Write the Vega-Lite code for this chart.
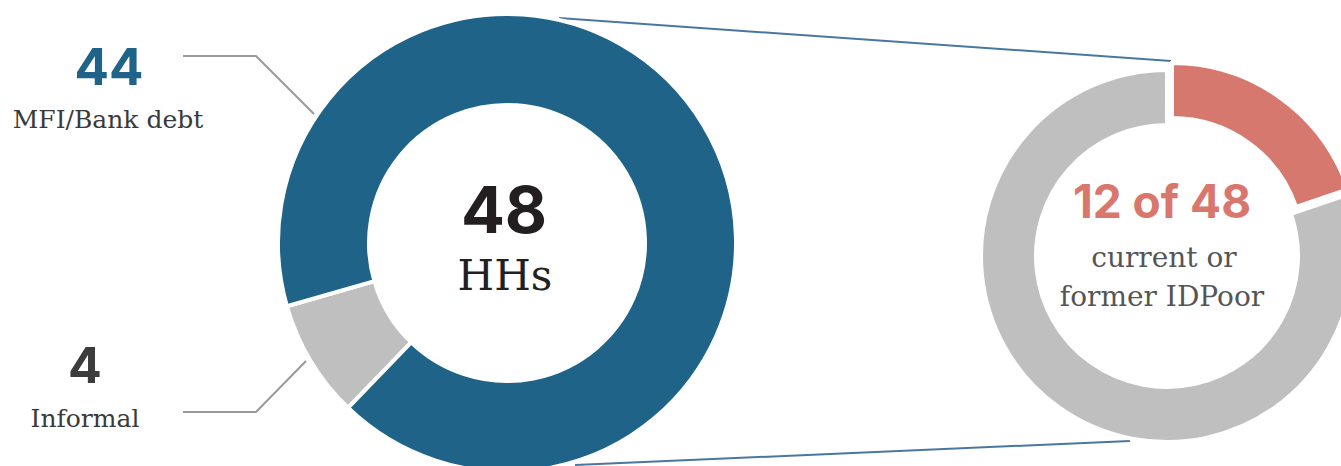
{
  "$schema": "https://vega.github.io/schema/vega-lite/v6.json",
  "width": 1341,
  "height": 466,
  "autosize": "none",
  "padding": 0,
  "background": "white",
  "config": {"view": {"stroke": null}},
  "datasets": {
    "donuts": [
      {"ring": "all", "cat": "Informal", "ord": 1, "value": 4, "cx": 507, "cy": 243},
      {"ring": "all", "cat": "MFI/Bank debt", "ord": 2, "value": 44, "cx": 507, "cy": 243},
      {"ring": "idpoor", "cat": "IDPoor", "ord": 1, "value": 9.5, "cx": 1167, "cy": 256},
      {"ring": "idpoor", "cat": "Not IDPoor", "ord": 2, "value": 38.5, "cx": 1167, "cy": 256}
    ],
    "labels": [
      {"key": "n44", "text": "44", "x": 109, "y": 85},
      {"key": "l44", "text": "MFI/Bank debt", "x": 108, "y": 128},
      {"key": "n4", "text": "4", "x": 85, "y": 383},
      {"key": "l4", "text": "Informal", "x": 85, "y": 427},
      {"key": "n48", "text": "48", "x": 504, "y": 233},
      {"key": "l48", "text": "HHs", "x": 505, "y": 290},
      {"key": "n12", "text": "12 of 48", "x": 1162, "y": 218},
      {"key": "l12", "text": "current or", "x": 1164, "y": 267},
      {"key": "l12", "text": "former IDPoor", "x": 1162, "y": 306}
    ],
    "leaders": [
      {"id": "top", "seq": 1, "x": 183, "y": 56},
      {"id": "top", "seq": 2, "x": 256, "y": 56},
      {"id": "top", "seq": 3, "x": 314, "y": 114},
      {"id": "bottom", "seq": 1, "x": 183, "y": 412},
      {"id": "bottom", "seq": 2, "x": 256, "y": 412},
      {"id": "bottom", "seq": 3, "x": 306, "y": 361}
    ],
    "connectors": [
      {"id": "top", "x": 559, "y": 18, "x2": 1171, "y2": 61},
      {"id": "bottom", "x": 575, "y": 465, "x2": 1130, "y2": 441}
    ]
  },
  "layer": [
    {
      "data": {"name": "connectors"},
      "mark": {"type": "rule", "color": "#4a77a0", "strokeWidth": 2},
      "encoding": {
        "x": {"field": "x", "type": "quantitative", "scale": {"domain": [0, 1341], "nice": false, "zero": false}, "axis": null},
        "y": {"field": "y", "type": "quantitative", "scale": {"domain": [0, 466], "nice": false, "zero": false, "reverse": true}, "axis": null},
        "x2": {"field": "x2"},
        "y2": {"field": "y2"}
      }
    },
    {
      "data": {"name": "leaders"},
      "mark": {"type": "line", "color": "#999999", "strokeWidth": 2},
      "encoding": {
        "x": {"field": "x", "type": "quantitative", "scale": {"domain": [0, 1341], "nice": false, "zero": false}, "axis": null},
        "y": {"field": "y", "type": "quantitative", "scale": {"domain": [0, 466], "nice": false, "zero": false, "reverse": true}, "axis": null},
        "detail": {"field": "id"},
        "order": {"field": "seq"}
      }
    },
    {
      "data": {"name": "donuts"},
      "transform": [
        {"stack": "value", "groupby": ["ring"], "offset": "normalize", "sort": [{"field": "ord"}], "as": ["s0", "s1"]},
        {"filter": "datum.ring === 'all'"}
      ],
      "mark": {"type": "arc", "radius": 229, "radius2": 138, "thetaOffset": 3.909, "theta2Offset": 3.909, "stroke": "white", "strokeWidth": 4},
      "encoding": {
        "x": {"field": "cx", "type": "quantitative", "scale": {"domain": [0, 1341], "nice": false, "zero": false}, "axis": null},
        "y": {"field": "cy", "type": "quantitative", "scale": {"domain": [0, 466], "nice": false, "zero": false, "reverse": true}, "axis": null},
        "theta": {"field": "s0", "type": "quantitative", "scale": {"domain": [0, 1], "range": [0, 6.283185]}},
        "theta2": {"field": "s1"},
        "color": {"field": "cat", "type": "nominal", "scale": {"domain": ["MFI/Bank debt", "Informal"], "range": ["#1f6389", "#bfbfbf"]}, "legend": null}
      }
    },
    {
      "data": {"name": "donuts"},
      "transform": [
        {"stack": "value", "groupby": ["ring"], "offset": "normalize", "sort": [{"field": "ord"}], "as": ["s0", "s1"]},
        {"filter": "datum.cat === 'Not IDPoor'"}
      ],
      "mark": {"type": "arc", "radius": 186, "radius2": 131, "stroke": "white", "strokeWidth": 4, "color": "#bfbfbf"},
      "encoding": {
        "x": {"field": "cx", "type": "quantitative", "scale": {"domain": [0, 1341], "nice": false, "zero": false}, "axis": null},
        "y": {"field": "cy", "type": "quantitative", "scale": {"domain": [0, 466], "nice": false, "zero": false, "reverse": true}, "axis": null},
        "theta": {"field": "s0", "type": "quantitative", "scale": {"domain": [0, 1], "range": [0, 6.283185]}},
        "theta2": {"field": "s1"}
      }
    },
    {
      "data": {"name": "donuts"},
      "transform": [
        {"stack": "value", "groupby": ["ring"], "offset": "normalize", "sort": [{"field": "ord"}], "as": ["s0", "s1"]},
        {"filter": "datum.cat === 'IDPoor'"}
      ],
      "mark": {"type": "arc", "radius": 186, "radius2": 131, "stroke": "white", "strokeWidth": 4, "color": "#d6786d", "xOffset": 5, "yOffset": -7},
      "encoding": {
        "x": {"field": "cx", "type": "quantitative", "scale": {"domain": [0, 1341], "nice": false, "zero": false}, "axis": null},
        "y": {"field": "cy", "type": "quantitative", "scale": {"domain": [0, 466], "nice": false, "zero": false, "reverse": true}, "axis": null},
        "theta": {"field": "s0", "type": "quantitative", "scale": {"domain": [0, 1], "range": [0, 6.283185]}},
        "theta2": {"field": "s1"}
      }
    },
    {
      "data": {"name": "labels"},
      "transform": [{"filter": "datum.key === 'n44'"}],
      "mark": {"type": "text", "font": "Inter", "fontWeight": 700, "fontSize": 51, "color": "#1f6389", "align": "center", "baseline": "alphabetic"},
      "encoding": {
        "x": {"field": "x", "type": "quantitative", "scale": {"domain": [0, 1341], "nice": false, "zero": false}, "axis": null},
        "y": {"field": "y", "type": "quantitative", "scale": {"domain": [0, 466], "nice": false, "zero": false, "reverse": true}, "axis": null},
        "text": {"field": "text"}
      }
    },
    {
      "data": {"name": "labels"},
      "transform": [{"filter": "datum.key === 'n4'"}],
      "mark": {"type": "text", "font": "Inter", "fontWeight": 700, "fontSize": 50, "color": "#3c3c3c", "align": "center", "baseline": "alphabetic"},
      "encoding": {
        "x": {"field": "x", "type": "quantitative", "scale": {"domain": [0, 1341], "nice": false, "zero": false}, "axis": null},
        "y": {"field": "y", "type": "quantitative", "scale": {"domain": [0, 466], "nice": false, "zero": false, "reverse": true}, "axis": null},
        "text": {"field": "text"}
      }
    },
    {
      "data": {"name": "labels"},
      "transform": [{"filter": "datum.key === 'n48'"}],
      "mark": {"type": "text", "font": "Inter", "fontWeight": 700, "fontSize": 65, "color": "#231f20", "align": "center", "baseline": "alphabetic"},
      "encoding": {
        "x": {"field": "x", "type": "quantitative", "scale": {"domain": [0, 1341], "nice": false, "zero": false}, "axis": null},
        "y": {"field": "y", "type": "quantitative", "scale": {"domain": [0, 466], "nice": false, "zero": false, "reverse": true}, "axis": null},
        "text": {"field": "text"}
      }
    },
    {
      "data": {"name": "labels"},
      "transform": [{"filter": "datum.key === 'n12'"}],
      "mark": {"type": "text", "font": "Inter", "fontWeight": 700, "fontSize": 46, "color": "#d9776d", "align": "center", "baseline": "alphabetic"},
      "encoding": {
        "x": {"field": "x", "type": "quantitative", "scale": {"domain": [0, 1341], "nice": false, "zero": false}, "axis": null},
        "y": {"field": "y", "type": "quantitative", "scale": {"domain": [0, 466], "nice": false, "zero": false, "reverse": true}, "axis": null},
        "text": {"field": "text"}
      }
    },
    {
      "data": {"name": "labels"},
      "transform": [{"filter": "datum.key === 'l44' || datum.key === 'l4'"}],
      "mark": {"type": "text", "font": "DejaVu Serif", "fontSize": 25, "color": "#3a3a3a", "align": "center", "baseline": "alphabetic"},
      "encoding": {
        "x": {"field": "x", "type": "quantitative", "scale": {"domain": [0, 1341], "nice": false, "zero": false}, "axis": null},
        "y": {"field": "y", "type": "quantitative", "scale": {"domain": [0, 466], "nice": false, "zero": false, "reverse": true}, "axis": null},
        "text": {"field": "text"}
      }
    },
    {
      "data": {"name": "labels"},
      "transform": [{"filter": "datum.key === 'l48'"}],
      "mark": {"type": "text", "font": "DejaVu Serif", "fontSize": 42, "color": "#231f20", "align": "center", "baseline": "alphabetic"},
      "encoding": {
        "x": {"field": "x", "type": "quantitative", "scale": {"domain": [0, 1341], "nice": false, "zero": false}, "axis": null},
        "y": {"field": "y", "type": "quantitative", "scale": {"domain": [0, 466], "nice": false, "zero": false, "reverse": true}, "axis": null},
        "text": {"field": "text"}
      }
    },
    {
      "data": {"name": "labels"},
      "transform": [{"filter": "datum.key === 'l12'"}],
      "mark": {"type": "text", "font": "DejaVu Serif", "fontSize": 28, "color": "#555555", "align": "center", "baseline": "alphabetic"},
      "encoding": {
        "x": {"field": "x", "type": "quantitative", "scale": {"domain": [0, 1341], "nice": false, "zero": false}, "axis": null},
        "y": {"field": "y", "type": "quantitative", "scale": {"domain": [0, 466], "nice": false, "zero": false, "reverse": true}, "axis": null},
        "text": {"field": "text"}
      }
    }
  ]
}
